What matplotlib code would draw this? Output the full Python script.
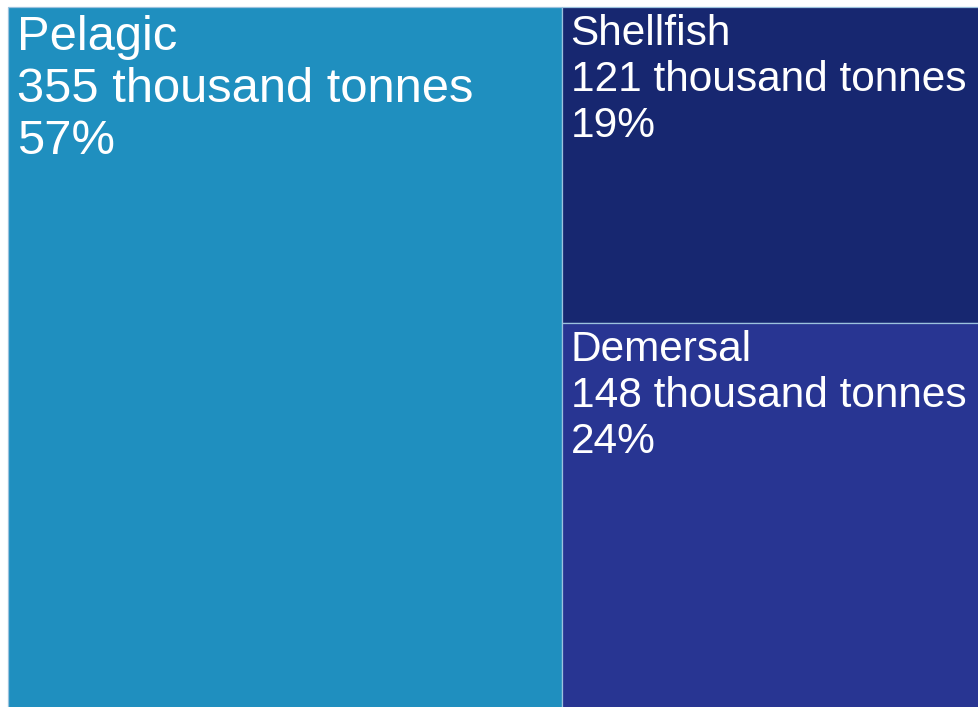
import matplotlib
matplotlib.use("Agg")
import matplotlib.pyplot as plt
from matplotlib.patches import Rectangle

# Landings by species group (thousand tonnes)
categories = ["Pelagic", "Shellfish", "Demersal"]
values = [355, 121, 148]
colors = ["#1f8fbf", "#172770", "#283592"]

W, H = 979, 707
DPI = 100
fig = plt.figure(figsize=(W / DPI, H / DPI), dpi=DPI)
fig.patch.set_facecolor("white")

# Treemap area in figure pixels (extends a touch past the bottom/right edges)
x0, y0, tw, th = 8, 7, 973, 702.5
ax = fig.add_axes([x0 / W, 1 - (y0 + th) / H, tw / W, th / H])
ax.set_xlim(0, 1)
ax.set_ylim(1, 0)
ax.axis("off")

total = sum(values)
# First column holds the largest group, the other two are stacked on the right
w0 = values[0] / total
rest = values[1] + values[2]
h1 = values[1] / rest
rects = [
    (0, 0, w0, 1),
    (w0, 0, 1 - w0, h1),
    (w0, h1, 1 - w0, 1 - h1),
]

font = ["Liberation Sans", "DejaVu Sans"]
for i, (name, val, col, (rx, ry, rw, rh)) in enumerate(zip(categories, values, colors, rects)):
    ax.add_patch(Rectangle((rx, ry), rw, rh, facecolor=col, edgecolor="#9cc2de",
                           linewidth=0.9, clip_on=False))
    fs = 35.2 if i == 0 else 30.5
    step = 1.06 * fs if i == 0 else 1.08 * fs
    first = 31 if i == 0 else 27.5
    pct = round(100 * val / total)
    lines = [name, f"{val} thousand tonnes", f"{pct}%"]
    for k, line in enumerate(lines):
        ax.annotate(line, xy=(rx, ry), xycoords="data",
                    xytext=(6.5, -(first + k * step)), textcoords="offset points",
                    ha="left", va="baseline", color="white", fontsize=fs,
                    family=font, annotation_clip=False)

fig.savefig("out.png", dpi=DPI, facecolor="white")
